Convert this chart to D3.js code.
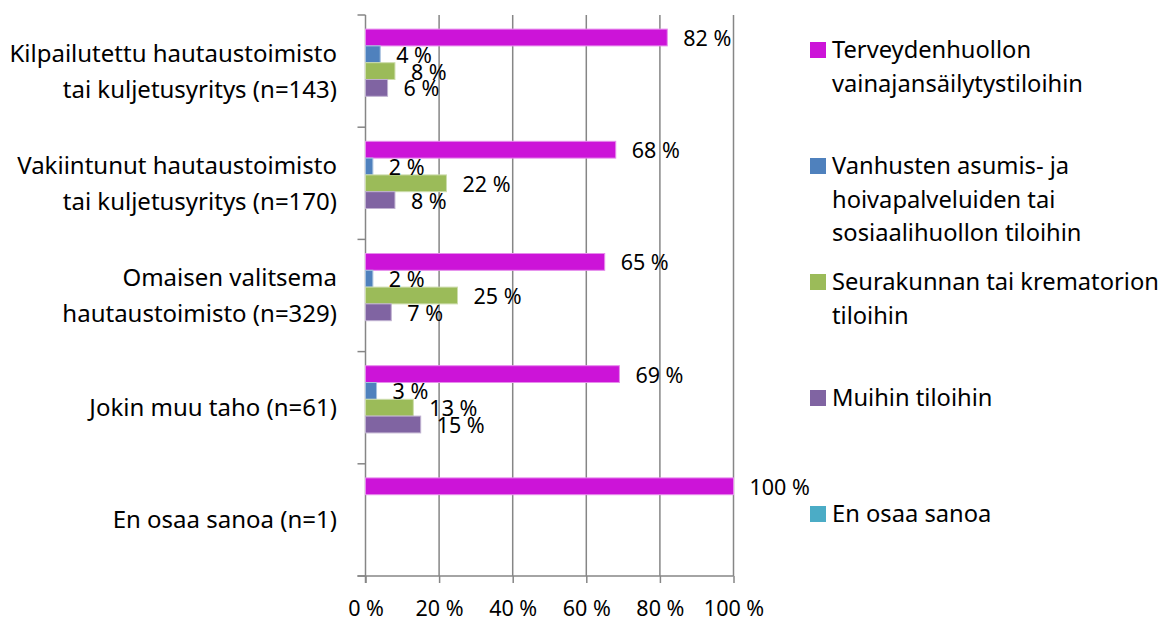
<!DOCTYPE html>
<html>
<head>
<meta charset="utf-8">
<script src="https://cdn.jsdelivr.net/npm/d3@7"></script>
<style>
  html, body { margin: 0; padding: 0; background: #fff; }
  svg { display: block; font-family: "Noto Sans", sans-serif; }
</style>
</head>
<body>
<svg id="chart" width="1164" height="622"></svg>
<script>
// ---- Data ----
const categories = [
  "Kilpailutettu hautaustoimisto\ntai kuljetusyritys (n=143)",
  "Vakiintunut hautaustoimisto\ntai kuljetusyritys (n=170)",
  "Omaisen valitsema\nhautaustoimisto (n=329)",
  "Jokin muu taho (n=61)",
  "En osaa sanoa (n=1)"
];
const seriesNames = [
  "Terveydenhuollon\nvainajansäilytystiloihin",
  "Vanhusten asumis- ja\nhoivapalveluiden tai\nsosiaalihuollon tiloihin",
  "Seurakunnan tai krematorion\ntiloihin",
  "Muihin tiloihin",
  "En osaa sanoa"
];
const terveydenhuolto = [82, 68, 65, 69, 100];
const vanhusten       = [4, 2, 2, 3, 0];
const seurakunta      = [8, 22, 25, 13, 0];
const muihin          = [6, 8, 7, 15, 0];
const enOsaa          = [0, 0, 0, 0, 0];
const seriesValues = [terveydenhuolto, vanhusten, seurakunta, muihin, enOsaa];
const xTicks = [0, 20, 40, 60, 80, 100];
const colors = ["#CC14D8", "#4F81BD", "#9BBB59", "#8064A2", "#4BACC6"];
const strokes = ["#E68CEC", "#A7C0DE", "#CDDDAC", "#BFB1D0", "#A5D5E2"];

(function () {
// ---- Layout ----
const svg = d3.select("#chart");
const pLeft = 365.5, pRight = 733.5, pTop = 15, pBottom = 576;
const gridColor = "#868686";

const x = d3.scaleLinear().domain([0, 100]).range([pLeft, pRight]);
const y = d3.scaleBand().domain(categories).range([pTop, pBottom]).paddingInner(0).paddingOuter(0);
const ys = d3.scaleBand().domain(d3.range(seriesNames.length)).range([0, y.bandwidth()]).paddingInner(0).paddingOuter(0.84);

// vertical gridlines
svg.append("g").selectAll("line").data(xTicks.slice(1)).join("line")
  .attr("x1", d => x(d)).attr("x2", d => x(d))
  .attr("y1", pTop).attr("y2", pBottom)
  .attr("stroke", gridColor).attr("stroke-width", 1.5);

// x axis
const xAxis = d3.axisBottom(x).tickValues(xTicks).tickFormat(d => d + " %").tickSize(7).tickSizeOuter(0);
const gx = svg.append("g").attr("transform", `translate(0,${pBottom})`).call(xAxis);
gx.select(".domain").remove();
gx.append("line").attr("x1", pLeft - 8).attr("x2", pRight).attr("y1", 0).attr("y2", 0)
  .attr("stroke", gridColor).attr("stroke-width", 1.5);
gx.selectAll(".tick line").attr("stroke", gridColor).attr("stroke-width", 1.5);
gx.selectAll(".tick text").attr("fill", "#000").attr("font-size", 21.5)
  .attr("font-family", "Noto Sans").attr("y", 39.5).attr("dy", "0");

// y axis line + ticks at band boundaries
const gy = svg.append("g");
gy.append("line").attr("x1", pLeft).attr("x2", pLeft).attr("y1", pTop).attr("y2", pBottom + 7)
  .attr("stroke", gridColor).attr("stroke-width", 1.5);
const boundaries = categories.map(c => y(c)).concat([pBottom]);
gy.selectAll("line.tk").data(boundaries).join("line").attr("class", "tk")
  .attr("x1", pLeft - 8).attr("x2", pLeft).attr("y1", d => d).attr("y2", d => d)
  .attr("stroke", gridColor).attr("stroke-width", 1.5);

// category labels
const catG = svg.append("g");
categories.forEach(c => {
  const lines = c.split("\n");
  const cy = y(c) + y.bandwidth() / 2;
  const lh = 36;
  const t = catG.append("text").attr("text-anchor", "end").attr("font-size", 24).attr("fill", "#000");
  lines.forEach((ln, i) => {
    t.append("tspan").attr("x", 337)
      .attr("y", cy + (i - (lines.length - 1) / 2) * lh)
      .attr("dy", "0.35em").text(ln);
  });
});

// bars
const barsG = svg.append("g");
const flat = [];
categories.forEach((c, ci) => {
  seriesValues.forEach((vals, si) => {
    flat.push({ c, si, v: vals[ci] });
  });
});
barsG.selectAll("rect").data(flat.filter(d => d.v > 0)).join("rect")
  .attr("x", x(0))
  .attr("y", d => y(d.c) + ys(d.si))
  .attr("width", d => x(d.v) - x(0))
  .attr("height", ys.bandwidth())
  .attr("fill", d => colors[d.si])
  .attr("stroke", d => strokes[d.si]).attr("stroke-width", 1);

// data labels
barsG.selectAll("text").data(flat.filter(d => d.v > 0)).join("text")
  .attr("x", d => x(d.v) + 16)
  .attr("y", d => y(d.c) + ys(d.si) + ys.bandwidth() / 2 + 1)
  .attr("dy", "0.35em")
  .attr("font-size", 21.5).attr("fill", "#000")
  .text(d => d.v + " %");

// legend
const legG = svg.append("g");
seriesNames.forEach((name, i) => {
  const ly = 50 + i * 116;
  legG.append("rect").attr("x", 810).attr("y", ly - 8).attr("width", 16).attr("height", 16).attr("fill", colors[i]);
  const t = legG.append("text").attr("font-size", 23.7).attr("fill", "#000");
  name.split("\n").forEach((ln, j) => {
    t.append("tspan").attr("x", 832).attr("y", ly + j * 33.5).attr("dy", "0.35em").text(ln);
  });
});
})();
</script>
</body>
</html>
